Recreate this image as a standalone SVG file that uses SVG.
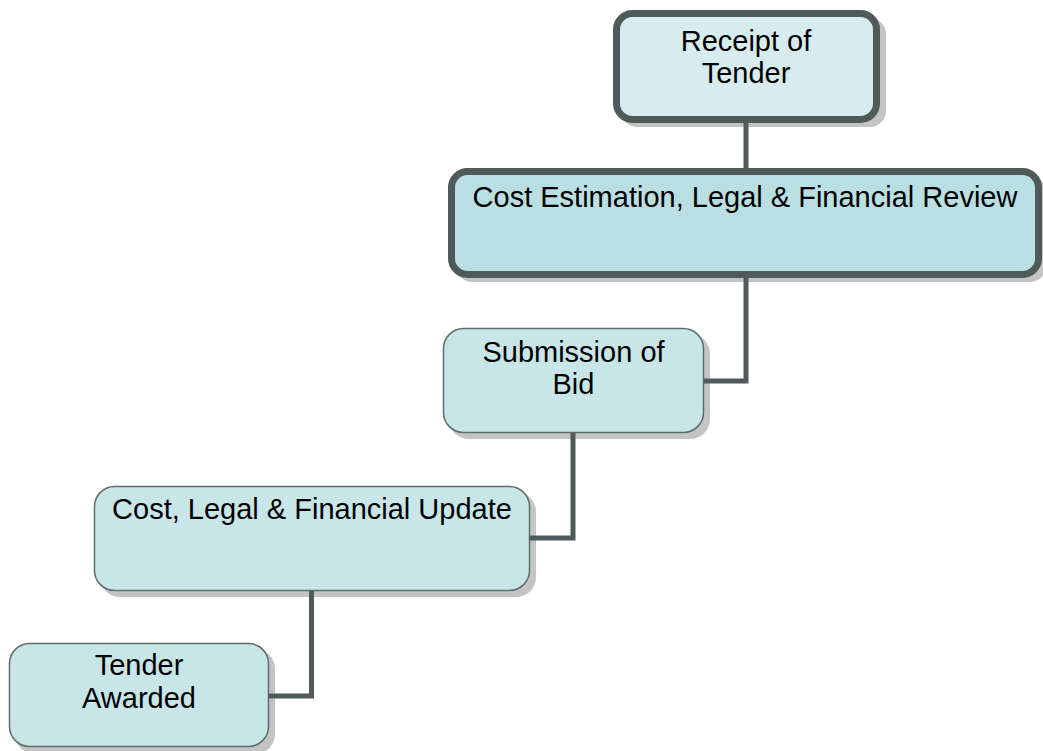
<svg xmlns="http://www.w3.org/2000/svg" width="1043" height="751" viewBox="0 0 1043 751">
<style>
  .lbl { font-family: "Liberation Sans", Arial, sans-serif; font-size: 29px; fill: #000; text-anchor: middle; }
  .shadow { fill: #c4c4c4; }
  .thick { stroke: #4f5b5b; stroke-width: 7; }
  .thin { fill: #c8e6e8; stroke: #5e6c6c; stroke-width: 1.5; }
  .conn { fill: none; stroke: #4f5b5b; stroke-width: 5; stroke-linejoin: miter; stroke-linecap: butt; }
</style>
<rect width="1043" height="751" fill="#ffffff"/>

<g id="node-receipt">
  <rect class="shadow" x="621" y="18" width="265" height="109" rx="16"/>
  <rect class="thick" x="616.5" y="13.5" width="260" height="106" rx="16" fill="#d7ecef"/>
  <text class="lbl" x="746" y="51">Receipt of</text>
  <text class="lbl" x="746" y="83">Tender</text>
</g>

<g id="node-cost-estimation">
  <rect class="shadow" x="456" y="176" width="590" height="106" rx="16"/>
  <rect class="thick" x="451.5" y="171.5" width="587" height="103" rx="16" fill="#b9dfe3"/>
  <text class="lbl" x="745" y="207">Cost Estimation, Legal &amp; Financial Review</text>
</g>

<g id="node-submission">
  <rect class="shadow" x="449" y="334" width="261" height="105" rx="20"/>
  <rect class="thin" x="443.5" y="328.5" width="260" height="104" rx="20"/>
  <text class="lbl" x="573.5" y="362">Submission of</text>
  <text class="lbl" x="573.5" y="394">Bid</text>
</g>

<g id="node-cost-update">
  <rect class="shadow" x="100" y="492" width="436" height="105" rx="20"/>
  <rect class="thin" x="94.5" y="486.5" width="435" height="104" rx="20"/>
  <text class="lbl" x="312" y="519">Cost, Legal &amp; Financial Update</text>
</g>

<g id="node-tender-awarded">
  <rect class="shadow" x="15" y="649" width="260" height="105" rx="20"/>
  <rect class="thin" x="9.5" y="643.5" width="259" height="103" rx="20"/>
  <text class="lbl" x="139" y="675">Tender</text>
  <text class="lbl" x="139" y="708">Awarded</text>
</g>

<g id="connectors">
  <path class="conn" d="M746,123 L746,168"/>
  <path class="conn" d="M746,278 L746,381 L704,381"/>
  <path class="conn" d="M573,433 L573,538 L530,538"/>
  <path class="conn" d="M311.5,591 L311.5,696 L269,696"/>
</g>
</svg>
